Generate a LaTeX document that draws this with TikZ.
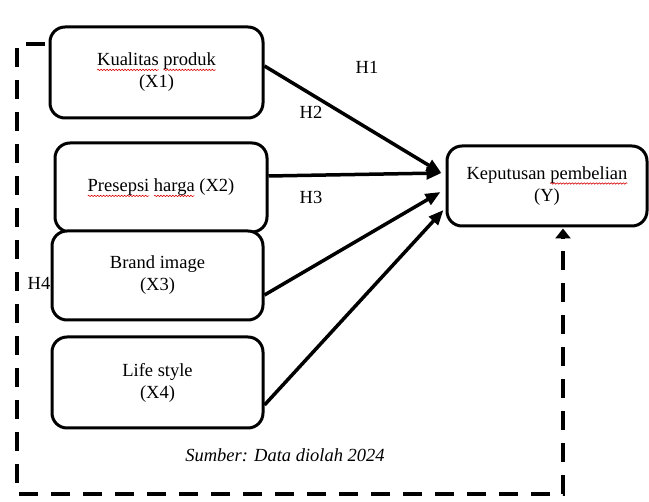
\documentclass[tikz,border=0pt]{standalone}
\usepackage{fontspec}
\setmainfont{Liberation Serif}
\usetikzlibrary{arrows.meta,calc,decorations.pathmorphing}
\newcommand\redwave[1]{\tikz[baseline=(w.base),x=1pt,y=1pt,sharp corners]{\node[inner sep=0pt,outer sep=0pt,draw=none,fill=none,minimum width=0pt,minimum height=0pt] (w) {#1};
  \draw[overlay, sharp corners, red!85!black, line width=0.6pt, line cap=butt, decorate, decoration={snake,amplitude=0.7pt,segment length=3pt}] ([yshift=-4pt]w.base west) -- ([yshift=-4pt]w.base east);}}
\begin{document}
\begin{tikzpicture}[x=1pt,y=-1pt,
  every node/.style={font=\fontsize{18.5}{22}\selectfont},
  varbox/.style={draw, line width=3pt, rounded corners=15pt, fill=white, align=center, inner sep=0pt},
  conn/.style={line width=3.5pt, -{Triangle[length=15pt,width=12pt]}},
  backlink/.style={line width=4.5pt, dash pattern=on 19pt off 13pt, -{Triangle[length=10pt,width=15pt]}},
  hlabel/.style={inner sep=0pt}]
\useasboundingbox (0,0) rectangle (649,502);
\fill[white] (0,0) rectangle (649,502);

\node[varbox, minimum width=213pt, minimum height=91pt] (x1) at (156.5,72.5) {\redwave{Kualitas} \redwave{produk}\\(X1)};
\node[varbox, minimum width=212pt, minimum height=89pt] (x2) at (161,187.5) {\redwave{Presepsi} \redwave{harga} (X2)};
\node[varbox, minimum width=211pt, minimum height=89pt] (x3) at (157.5,275.5) {Brand image\\(X3)};
\node[varbox, minimum width=211pt, minimum height=91pt] (x4) at (157.5,382.5) {Life style\\(X4)};
\node[varbox, minimum width=200pt, minimum height=80pt] (y) at (547,186) {Keputusan \redwave{pembelian}\\(Y)};

\draw[conn] ([yshift=6.5pt]x1.east) -- ([xshift=-4pt,yshift=13pt]y.west);
\draw[conn] ([yshift=11.5pt]x2.east) -- ([xshift=-4pt,yshift=13pt]y.west);
\draw[conn] ([yshift=-19.5pt]x3.east) -- ([xshift=-5pt,yshift=-6pt]y.west);
\draw[conn] ([yshift=-22.5pt]x4.east) -- ([xshift=-2pt,yshift=-24pt]y.west);

\coordinate (d0) at (45,44);
\draw[backlink] (d0) -- ++(-28,0) -- ++(0,450) -- ++(546,0) -- ([xshift=16pt,yshift=-1pt]y.south);

\node[hlabel] (h1) at (367,67) {H1};
\node[hlabel] (h2) at (311,112) {H2};
\node[hlabel] (h3) at (311,197) {H3};
\node[hlabel] (h4) at (39,283) {H4};
\node[hlabel] (src) at (285,455) {\itshape Sumber: Data diolah 2024};
\end{tikzpicture}
\end{document}
